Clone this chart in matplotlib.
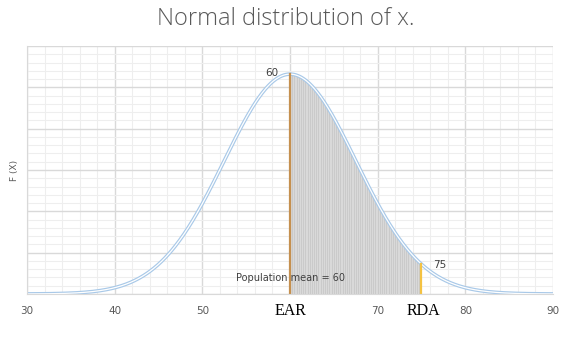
import numpy as np
import matplotlib
matplotlib.use("Agg")
import matplotlib.pyplot as plt
from matplotlib.ticker import MultipleLocator

# Data
mean = 60
sd = 7.5
ear = 60
rda = 75
x_ticks = [30, 40, 50, 60, 70, 80, 90]
x_tick_labels = ['30', '40', '50', '', '70', '80', '90']
x = np.linspace(30, 90, 601)
pdf = np.exp(-0.5 * ((x - mean) / sd) ** 2) / (sd * np.sqrt(2 * np.pi))
shade_x = np.arange(60, 75.01, 0.25)
shade_y = np.exp(-0.5 * ((shade_x - mean) / sd) ** 2) / (sd * np.sqrt(2 * np.pi))

def f(v):
    return np.exp(-0.5 * ((v - mean) / sd) ** 2) / (sd * np.sqrt(2 * np.pi))

fig = plt.figure(figsize=(5.71, 3.37), dpi=100)
ax = fig.add_axes([27/571, 1 - 294/337, (553-27)/571, (294-46)/337])
ax.set_xlim(30, 90)
ax.set_ylim(0, 0.06)

ax.xaxis.set_major_locator(MultipleLocator(10))
ax.xaxis.set_minor_locator(MultipleLocator(2))
ax.yaxis.set_major_locator(MultipleLocator(0.01))
ax.yaxis.set_minor_locator(MultipleLocator(0.002))
ax.grid(which='major', color='#d9d9d9', lw=1.0)
ax.grid(which='minor', color='#eeeeee', lw=0.8)
ax.set_axisbelow(True)
for s in ['top', 'right']:
    ax.spines[s].set_visible(False)
ax.spines['left'].set_color('#d9d9d9')
ax.spines['bottom'].set_color('#d9d9d9')
ax.tick_params(which='both', length=0)
ax.set_yticklabels([])
ax.set_xticks(x_ticks)
ax.set_xticklabels(x_tick_labels, color='#595959', fontsize=7.5)
ax.tick_params(axis='x', pad=9)

# shading
ax.fill_between(shade_x, 0, shade_y, color='#d9d9d9', lw=0)
ax.vlines(shade_x, 0, shade_y, color='#c4c4c4', lw=0.5)

# curve (double line)
ax.plot(x, pdf, color='#a9c9e8', lw=2.6, solid_capstyle='butt')
ax.plot(x, pdf, color='white', lw=0.9)

# EAR & RDA lines
ax.plot([ear, ear], [0, f(ear)], color='#c5904f', lw=1.6)
ax.plot([rda, rda], [0, f(rda)], color='#f4c242', lw=1.6)

ax.text(ear - 1.3, f(ear) + 0.0003, '60', fontsize=7.5, color='#404040', ha='right', va='center')
ax.text(rda + 1.3, f(rda) - 0.0003, '75', fontsize=7.5, color='#404040', ha='left', va='center')
ax.text(60, 0.0039, 'Population mean = 60', fontsize=7, color='#404040', ha='center', va='center')

ax.text(ear + 0.1, -0.0042, 'EAR', fontsize=11.5, family='Liberation Serif', ha='center', va='center', color='black')
ax.text(rda + 0.2, -0.0042, 'RDA', fontsize=11.5, family='Liberation Serif', ha='center', va='center', color='black')

ax.set_ylabel('F (X)', fontsize=6.5, color='#595959', labelpad=2)

fig.text(0.5, 1 - 19/337, 'Normal distribution of x.', fontsize=17, color='#595959',
         ha='center', va='center', family='Open Sans', fontweight='light')

fig.savefig('out.png', dpi=100)
